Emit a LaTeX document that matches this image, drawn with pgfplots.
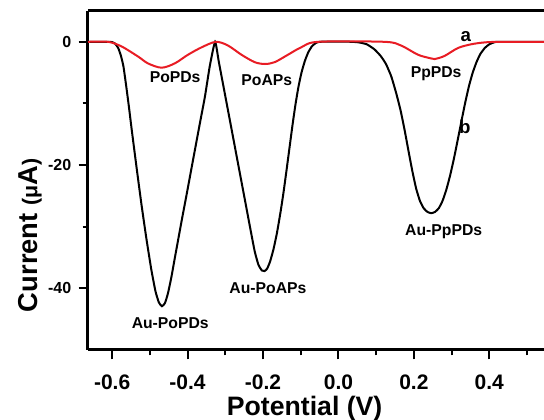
\documentclass[border=0pt]{standalone}
\usepackage{fontspec}
\setmainfont{Liberation Sans}
\usepackage{pgfplots}
\pgfplotsset{compat=1.18}
\definecolor{cred}{RGB}{232,28,36}
\begin{document}
\begin{tikzpicture}
\begin{axis}[
 name=ax, at={(0,0)}, anchor=south west,
 scale only axis, width=342pt, height=254.25pt,
 xmin=-0.664, xmax=0.545, ymin=-50, ymax=5,
 axis x line*=bottom, axis y line*=left,
 axis line style={line width=2.25pt, -},
 xtick={-0.6,-0.4,-0.2,0,0.2,0.4},
 minor xtick={-0.5,-0.3,-0.1,0.1,0.3,0.5},
 ytick={-40,-20,0}, minor ytick={-30,-10},
 tick align=outside,
 major tick length=7pt, minor tick length=4pt,
 every tick/.style={line width=1.5pt, black},
 /pgf/number format/assume math mode=true,
 x tick label style={font=\fontsize{15.75}{16}\selectfont\bfseries, anchor=base, yshift=-22.5pt, /pgf/number format/.cd, fixed, fixed zerofill, precision=1},
 y tick label style={font=\fontsize{12}{12}\selectfont\bfseries, anchor=east, xshift=-2pt},
 xlabel={Potential (V)},
 xlabel style={font=\fontsize{20}{20}\selectfont\bfseries, at={(axis description cs:0.475,-0.193)}, anchor=base},
 ylabel={Current {\fontsize{16}{16}\selectfont(μ}A{\fontsize{16}{16}\selectfont)}},
 ylabel style={font=\fontsize{20.5}{21}\selectfont\bfseries, at={(axis description cs:-0.127,0.338)}, anchor=center},
 clip=true,
]
\addplot[black, line width=1.5pt, smooth, tension=0.3] coordinates {
(-0.664,0) (-0.610,0) (-0.600,-0.05) (-0.592,-0.3) (-0.584,-1.0) (-0.577,-2.2) (-0.570,-4.0) (-0.562,-7.5) (-0.555,-10.8) (-0.548,-14.3) (-0.535,-20.5) (-0.522,-26.5) (-0.509,-32.0) (-0.496,-37.0) (-0.485,-40.5) (-0.476,-42.3) (-0.468,-42.9) (-0.460,-42.4) (-0.452,-40.8) (-0.443,-38.2) (-0.433,-34.8) (-0.415,-28.8) (-0.402,-24.6) (-0.385,-19.0) (-0.367,-13.1) (-0.354,-8.9) (-0.341,-3.9) (-0.327,0)
(-0.317,-3.3) (-0.300,-8.8) (-0.283,-14.3) (-0.267,-19.5) (-0.250,-25.0) (-0.234,-30.2) (-0.222,-34.0) (-0.212,-36.2) (-0.203,-37.1) (-0.196,-37.2) (-0.189,-36.8) (-0.181,-35.6) (-0.172,-33.6) (-0.163,-31.0) (-0.154,-27.8) (-0.146,-24.6) (-0.138,-21.0) (-0.130,-17.3) (-0.122,-13.6) (-0.114,-10.2) (-0.106,-7.3) (-0.098,-5.0) (-0.089,-3.1) (-0.080,-1.7) (-0.070,-0.7) (-0.060,-0.2) (-0.050,0)
(0.000,0.05) (0.035,0) (0.055,-0.1) (0.075,-0.4) (0.095,-1.2) (0.112,-2.3) (0.126,-3.6) (0.140,-5.6) (0.153,-8.3) (0.165,-11.2) (0.176,-14.5) (0.186,-17.8) (0.196,-21.0) (0.206,-23.8) (0.216,-25.8) (0.226,-27.0) (0.236,-27.6) (0.246,-27.8) (0.256,-27.6) (0.266,-27.0) (0.276,-25.8) (0.286,-24.0) (0.296,-21.7) (0.306,-19.0) (0.316,-16.0) (0.326,-12.9) (0.336,-9.9) (0.346,-7.2) (0.356,-5.0) (0.366,-3.3) (0.376,-2.0) (0.388,-1.0) (0.400,-0.4) (0.412,-0.1) (0.425,0) (0.545,0)
};
\addplot[cred, line width=1.5pt, smooth, tension=0.5] coordinates {
(-0.664,0) (-0.611,0) (-0.575,-0.75) (-0.531,-2.4) (-0.505,-3.5) (-0.469,-4.2) (-0.434,-3.5) (-0.399,-2.1) (-0.363,-0.9) (-0.325,0) (-0.293,-0.6) (-0.257,-2.1) (-0.222,-3.3) (-0.195,-3.6) (-0.169,-3.3) (-0.134,-2.1) (-0.099,-0.9) (-0.054,0) (0.122,0) (0.166,-0.6) (0.211,-2.1) (0.246,-2.7) (0.255,-2.8) (0.281,-2.3) (0.317,-1.0) (0.352,-0.4) (0.387,-0.1) (0.428,0) (0.545,0)
};
\node[font=\fontsize{11.8}{12}\selectfont\bfseries] at (axis cs:-0.433,-5.7) {PoPDs};
\node[font=\fontsize{11.8}{12}\selectfont\bfseries] at (axis cs:-0.190,-6.2) {PoAPs};
\node[font=\fontsize{11.8}{12}\selectfont\bfseries] at (axis cs:0.259,-5.1) {PpPDs};
\node[font=\fontsize{11.8}{12}\selectfont\bfseries] at (axis cs:-0.446,-45.6) {Au-PoPDs};
\node[font=\fontsize{11.8}{12}\selectfont\bfseries] at (axis cs:-0.187,-40.0) {Au-PoAPs};
\node[font=\fontsize{11.8}{12}\selectfont\bfseries] at (axis cs:0.279,-30.8) {Au-PpPDs};
\node[font=\fontsize{14}{14}\selectfont\bfseries] at (axis cs:0.338,0.8) {a};
\node[font=\fontsize{14}{14}\selectfont\bfseries] at (axis cs:0.335,-13.8) {b};
\end{axis}
\draw[line width=2.25pt] (ax.north west) -- (ax.north east);
\pgfresetboundingbox
\path[use as bounding box] (-66pt,-52.5pt) rectangle (342pt,262.5pt);
\end{tikzpicture}
\end{document}
